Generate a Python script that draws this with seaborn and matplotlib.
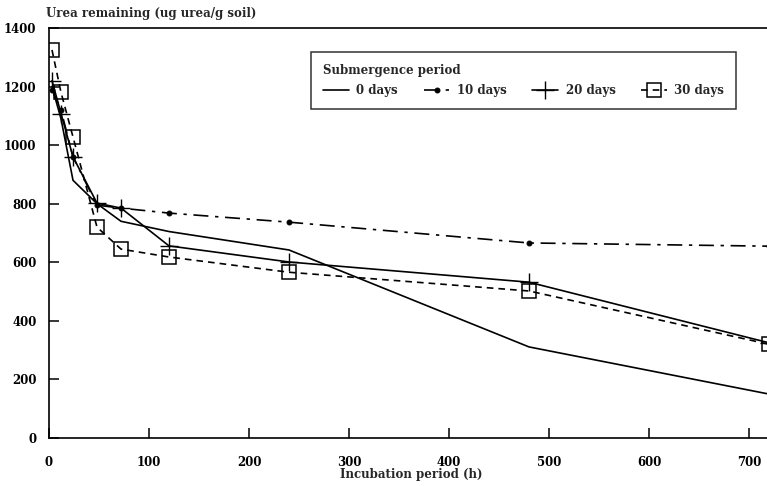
import matplotlib
matplotlib.use("Agg")
import matplotlib.pyplot as plt
import numpy as np
import pandas as pd
import seaborn as sns

# incubation time points (h)
hours = [3, 12, 24, 48, 72, 120, 240, 480, 720]

# urea remaining (ug urea / g soil) per submergence period
days_0 = [1200, 1090, 880, 800, 740, 705, 642, 311, 150]
days_10 = [1190, 1120, 960, 795, 785, 768, 737, 666, 655]
days_20 = [1220, 1108, 960, 802, 785, 656, 601, 532, 325]
days_30 = [1325, 1180, 1028, 720, 645, 618, 566, 502, 320]

labels = ["0 days", "10 days", "20 days", "30 days"]

sns.set_style("ticks")
plt.rcParams["font.family"] = ["DejaVu Serif"]
plt.rcParams["font.weight"] = "bold"

fig = plt.figure(figsize=(7.67, 4.86), dpi=100)
ax = fig.add_axes([49 / 767, 48 / 486, 718 / 767, 410 / 486])

styles = [
    dict(linestyle="-", marker=None),
    dict(linestyle=(0, (9, 4, 2, 4)), marker="o", markersize=3.5),
    dict(linestyle="-", marker="+", markersize=13, markeredgewidth=1.0),
    dict(linestyle=(0, (4, 3)), marker="s", markersize=10,
         markerfacecolor="none", markeredgewidth=1.1),
]
series = [days_0, days_10, days_20, days_30]

for vals, lab, st in zip(series, labels, styles):
    sns.lineplot(x=hours, y=vals, ax=ax, color="black", linewidth=1.2,
                 markeredgecolor="black", label=lab, **st)

ax.set_xlim(0, 718)
ax.set_ylim(0, 1400)
ax.set_xticks(np.arange(0, 701, 100))
ax.set_yticks(np.arange(0, 1401, 200))
ax.tick_params(direction="in", length=7, width=1.1, labelsize=8.5, colors="black")
for lbl in ax.get_xticklabels() + ax.get_yticklabels():
    lbl.set_fontweight("bold")
ax.tick_params(axis="x", pad=13)
ax.tick_params(axis="y", pad=9)

for s in ["left", "bottom", "top"]:
    ax.spines[s].set_color("black")
    ax.spines[s].set_linewidth(1.2)
ax.spines["right"].set_visible(False)

ax.set_xlabel("Incubation period (h)", fontsize=8.5, fontweight="bold", va="center")
ax.xaxis.set_label_coords(0.505, -0.088)
ax.set_ylabel("")
fig.text(46 / 767, 1 - 13 / 486, "Urea remaining (ug urea/g soil)",
         fontsize=8.5, fontweight="bold", ha="left", va="center")

leg = ax.legend(title="Submergence period", ncol=4, loc="upper left",
                bbox_to_anchor=(0.357, 0.955), frameon=True, fancybox=False,
                fontsize=8.5, title_fontsize=8.5, handlelength=2.2,
                columnspacing=2.2, borderpad=1.0, handletextpad=0.6,
                labelspacing=0.6)
leg._legend_box.align = "left"
leg.get_title().set_fontweight("bold")
leg.get_frame().set_edgecolor("black")
leg.get_frame().set_linewidth(1.1)

fig.savefig("out.png", dpi=100)
